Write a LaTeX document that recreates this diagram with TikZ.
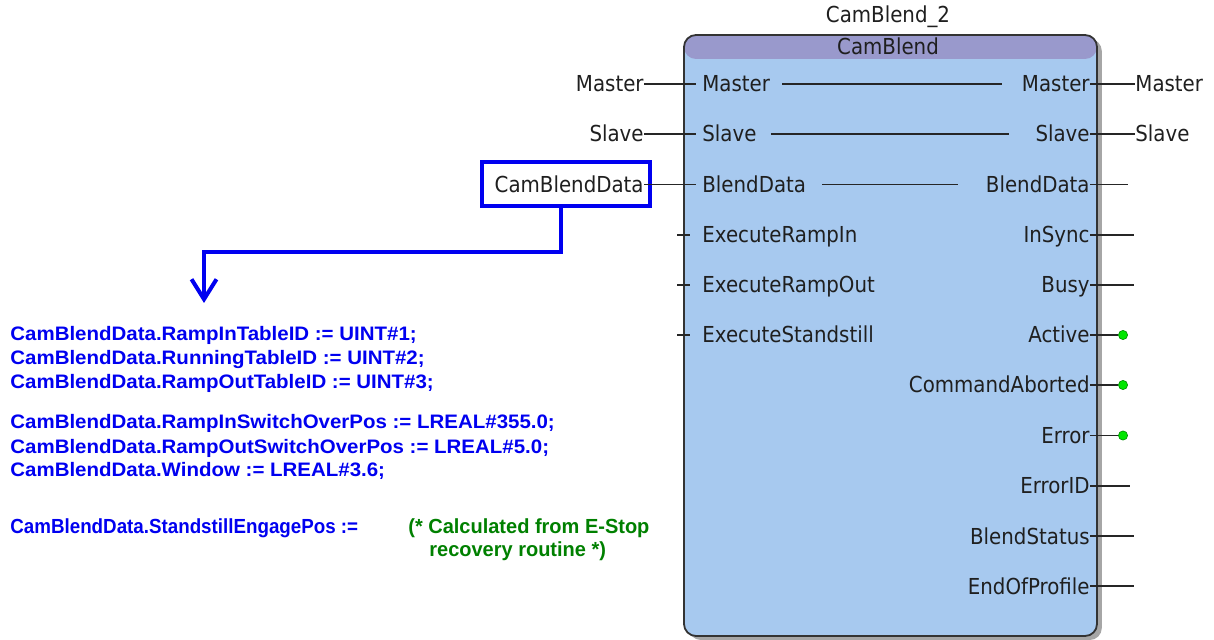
\documentclass[tikz,border=0pt]{standalone}
\usepackage{fontspec}
\usetikzlibrary{arrows.meta,shadows}
\newfontfamily\pinfont[FakeStretch=0.9]{DejaVu Sans}
\newfontfamily\codefont[FakeStretch=1.05]{Liberation Sans}
\newfontfamily\notefont[FakeStretch=0.92]{Liberation Sans}
\newfontfamily\commentfont[FakeStretch=0.98]{Liberation Sans}
\definecolor{fbhead}{RGB}{153,153,204}
\definecolor{fbbody}{RGB}{167,201,239}
\definecolor{codeblue}{RGB}{0,0,240}
\definecolor{notegreen}{RGB}{0,128,0}
\definecolor{pingreen}{RGB}{0,230,0}
\tikzset{
  pinlabel/.style={inner sep=0pt, text=black!88, text height=8pt, text depth=0pt,
    font=\pinfont\fontsize{11}{13}\selectfont},
  wire/.style={draw=black!85, line width=0.65pt},
  fblock/.style={draw=black!80, line width=0.9pt, rounded corners=6pt, fill=fbbody,
    minimum width=206.5pt, minimum height=300.5pt, inner sep=0pt,
    drop shadow={shadow xshift=2.4pt, shadow yshift=-2pt, fill=black!50, opacity=0.7},
    path picture={\fill[fbhead] (path picture bounding box.north west)
      rectangle ([yshift=-12pt]path picture bounding box.north east);}},
  varbox/.style={draw=codeblue, line width=2pt, minimum width=84pt, minimum height=22pt, inner sep=0pt},
  flow/.style={draw=codeblue, line width=2pt},
  okdot/.style={circle, fill=pingreen, draw=green!55!black, line width=0.3pt,
    minimum size=4.6pt, inner sep=0pt},
  codeline/.style={anchor=base west, inner sep=0pt, text=codeblue,
    font=\codefont\bfseries\fontsize{9.75}{12}\selectfont},
  noteline/.style={anchor=base west, inner sep=0pt, text=codeblue,
    font=\notefont\bfseries\fontsize{10.2}{12}\selectfont},
  commentline/.style={anchor=base west, inner sep=0pt, text=notegreen,
    font=\commentfont\bfseries\fontsize{10.2}{12}\selectfont},
}
\begin{document}
\begin{tikzpicture}[x=0.5pt, y=-0.5pt]
\useasboundingbox (0,0) rectangle (1214,640);

% function block
\node[fblock] (fb) at (890.5,335.5) {};
\node[pinlabel, anchor=center] (inst) at (888,15) {CamBlend\_2};
\node[pinlabel, anchor=center] (type) at (888,47) {CamBlend};

% inputs inside the block
\node[pinlabel, anchor=west] (inMaster)  at (702,84)  {Master};
\node[pinlabel, anchor=west] (inSlave)   at (702,134) {Slave};
\node[pinlabel, anchor=west] (inBlend)   at (702,184.5) {BlendData};
\node[pinlabel, anchor=west] (inRampIn)  at (702,235) {ExecuteRampIn};
\node[pinlabel, anchor=west] (inRampOut) at (702,285) {ExecuteRampOut};
\node[pinlabel, anchor=west] (inStand)   at (702,335) {ExecuteStandstill};

% outputs inside the block
\node[pinlabel, anchor=east] (outMaster)  at (1090,84)  {Master};
\node[pinlabel, anchor=east] (outSlave)   at (1090,134) {Slave};
\node[pinlabel, anchor=east] (outBlend)   at (1090,184.5) {BlendData};
\node[pinlabel, anchor=east] (outInSync)  at (1090,235) {InSync};
\node[pinlabel, anchor=east] (outBusy)    at (1090,285) {Busy};
\node[pinlabel, anchor=east] (outActive)  at (1090,335) {Active};
\node[pinlabel, anchor=east] (outAborted) at (1090,385) {CommandAborted};
\node[pinlabel, anchor=east] (outError)   at (1090,435.5) {Error};
\node[pinlabel, anchor=east] (outErrorID) at (1090,486) {ErrorID};
\node[pinlabel, anchor=east] (outStatus)  at (1090,536) {BlendStatus};
\node[pinlabel, anchor=east] (outEnd)     at (1090,586) {EndOfProfile};

% in-out pass-through lines
\draw[wire, shorten <=6pt, shorten >=10pt] (inMaster.east) -- (outMaster.west);
\draw[wire, shorten <=7pt, shorten >=13pt] (inSlave.east) -- (outSlave.west);
\draw[wire, shorten <=8pt, shorten >=14pt] (inBlend.east) -- (outBlend.west);

% actual parameters on the left
\node[pinlabel, anchor=east] (srcMaster) at (644,84)  {Master};
\node[pinlabel, anchor=east] (srcSlave)  at (644,134) {Slave};
\node[pinlabel, anchor=east] (srcBlend)  at (644,184.5) {CamBlendData};
\node[varbox] (cbd) at (566,184) {};
\draw[wire] (srcMaster.east) -- ([xshift=-3pt]inMaster.west);
\draw[wire] (srcSlave.east)  -- ([xshift=-3pt]inSlave.west);
\draw[wire] (srcBlend.east)  -- ([xshift=-3pt]inBlend.west);

% unconnected input stubs
\coordinate (stubRampIn)  at (677,235);
\coordinate (stubRampOut) at (677,285);
\coordinate (stubStand)   at (677,335);
\draw[wire] (stubRampIn)  -- ([xshift=-6pt]inRampIn.west);
\draw[wire] (stubRampOut) -- ([xshift=-6pt]inRampOut.west);
\draw[wire] (stubStand)   -- ([xshift=-6pt]inStand.west);

% actual parameters on the right
\node[pinlabel, anchor=west] (dstMaster) at (1135,84)  {Master};
\node[pinlabel, anchor=west] (dstSlave)  at (1135,134) {Slave};
\draw[wire] (outMaster.east) -- (dstMaster.west);
\draw[wire] (outSlave.east)  -- (dstSlave.west);

% unconnected output stubs
\coordinate (endBlend)   at (1128,184.5);
\coordinate (endInSync)  at (1134,235);
\coordinate (endBusy)    at (1134,285);
\coordinate (endErrorID) at (1130,486);
\coordinate (endStatus)  at (1134,536);
\coordinate (endEnd)     at (1134,586);
\draw[wire] (outBlend.east)   -- (endBlend);
\draw[wire] (outInSync.east)  -- (endInSync);
\draw[wire] (outBusy.east)    -- (endBusy);
\draw[wire] (outErrorID.east) -- (endErrorID);
\draw[wire] (outStatus.east)  -- (endStatus);
\draw[wire] (outEnd.east)     -- (endEnd);

% boolean outputs that are TRUE
\node[okdot] (dotActive)  at (1123,335) {};
\node[okdot] (dotAborted) at (1123,385) {};
\node[okdot] (dotError)   at (1123,435.5) {};
\draw[wire] (outActive.east)  -- (dotActive.west);
\draw[wire] (outAborted.east) -- (dotAborted.west);
\draw[wire] (outError.east)   -- (dotError.west);

% reference from the data structure to its initialisation code
\coordinate (bend) at (204,252);
\coordinate (tip)  at (204,303);
\draw[flow, -{Straight Barb[length=10pt, width=12.5pt]}]
  ([xshift=-2.5pt]cbd.south) |- (bend) -- (tip);

% initialisation code
\node[codeline] (l1) at (10,341) {CamBlendData.RampInTableID := UINT\#1;};
\node[codeline] (l2) at (10,365) {CamBlendData.RunningTableID := UINT\#2;};
\node[codeline] (l3) at (10,389) {CamBlendData.RampOutTableID := UINT\#3;};
\node[codeline] (l4) at (10,429) {CamBlendData.RampInSwitchOverPos := LREAL\#355.0;};
\node[codeline] (l5) at (10,453) {CamBlendData.RampOutSwitchOverPos := LREAL\#5.0;};
\node[codeline] (l6) at (10,477) {CamBlendData.Window := LREAL\#3.6;};
\node[noteline] (l7) at (10,533) {CamBlendData.StandstillEngagePos :=};
\node[commentline] (c1) at (408,533) {(* Calculated from E-Stop};
\node[commentline] (c2) at (429,556) {recovery routine *)};
\end{tikzpicture}
\end{document}
